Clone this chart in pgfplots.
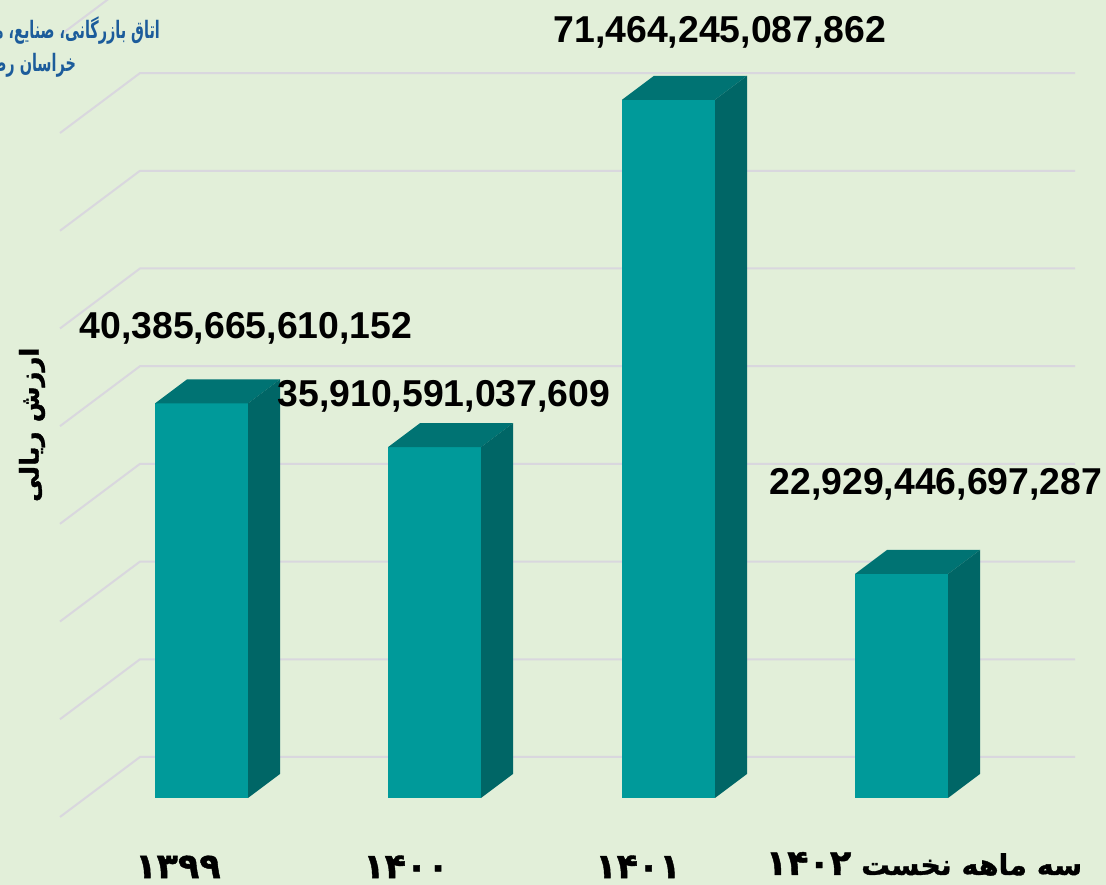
\documentclass[border=0pt]{standalone}
\usepackage{fontspec}
\usepackage{pgfplots}
\pgfplotsset{compat=1.18}
\setmainfont{Liberation Sans}
\newfontfamily\arabicfont[Script=Arabic]{DejaVu Sans}
\newfontfamily\arabicheavy[Script=Arabic,FakeBold=1.2]{DejaVu Sans Bold}
\TeXXeTstate=1
\definecolor{bg}{RGB}{226,239,217}
\definecolor{barfront}{RGB}{0,154,154}
\definecolor{bartop}{RGB}{0,115,115}
\definecolor{barside}{RGB}{0,102,102}
\definecolor{gridc}{RGB}{217,215,222}
\definecolor{logoblue}{RGB}{28,92,155}
% x in pixels of the picture, y in trillions of rials (9.77 px per unit)
\begin{document}
\begin{tikzpicture}[x=1pt,y=1pt]
\path[use as bounding box] (0,0) rectangle (1106,885);
\clip (0,0) rectangle (1106,885);
\fill[bg] (0,0) rectangle (1106,885);
\begin{axis}[
    at={(0,0)}, anchor=south west,
    scale only axis, width=1106pt, height=885pt,
    xmin=0, xmax=1106, ymin=-8.905, ymax=81.68,
    axis lines=none,
    unbounded coords=jump,
]
% grid: slanted side wall and back wall
\addplot[gridc, line width=2pt] coordinates {
    (60,-1.94) (140,4.2) (1075,4.2) (nan,nan)
    (60,8.06) (140,14.2) (1075,14.2) (nan,nan)
    (60,18.06) (140,24.2) (1075,24.2) (nan,nan)
    (60,28.06) (140,34.2) (1075,34.2) (nan,nan)
    (60,38.06) (140,44.2) (1075,44.2) (nan,nan)
    (60,48.06) (140,54.2) (1075,54.2) (nan,nan)
    (60,58.06) (140,64.2) (1075,64.2) (nan,nan)
    (60,68.06) (140,74.2) (1075,74.2) (nan,nan)
    (60,78.06) (140,84.2) (1075,84.2)
};
% 1399
\addplot[fill=barfront, draw=none] coordinates {(155,0) (248,0) (248,40.386) (155,40.386)} -- cycle;
\addplot[fill=bartop, draw=none] coordinates {(155,40.386) (248,40.386) (280,42.843) (187,42.843)} -- cycle;
\addplot[fill=barside, draw=none] coordinates {(248,0) (280,2.457) (280,42.843) (248,40.386)} -- cycle;
% 1400
\addplot[fill=barfront, draw=none] coordinates {(388,0) (481,0) (481,35.911) (388,35.911)} -- cycle;
\addplot[fill=bartop, draw=none] coordinates {(388,35.911) (481,35.911) (513,38.368) (420,38.368)} -- cycle;
\addplot[fill=barside, draw=none] coordinates {(481,0) (513,2.457) (513,38.368) (481,35.911)} -- cycle;
% 1401
\addplot[fill=barfront, draw=none] coordinates {(622,0) (715,0) (715,71.464) (622,71.464)} -- cycle;
\addplot[fill=bartop, draw=none] coordinates {(622,71.464) (715,71.464) (747,73.921) (654,73.921)} -- cycle;
\addplot[fill=barside, draw=none] coordinates {(715,0) (747,2.457) (747,73.921) (715,71.464)} -- cycle;
% 1402
\addplot[fill=barfront, draw=none] coordinates {(855,0) (948,0) (948,22.929) (855,22.929)} -- cycle;
\addplot[fill=bartop, draw=none] coordinates {(855,22.929) (948,22.929) (980,25.386) (887,25.386)} -- cycle;
\addplot[fill=barside, draw=none] coordinates {(948,0) (980,2.457) (980,25.386) (948,22.929)} -- cycle;
% value labels
\node[font=\fontsize{37.4}{37.4}\selectfont\bfseries] at (axis cs:246,48.1) {40,385,665,610,152};
\node[font=\fontsize{37.4}{37.4}\selectfont\bfseries] at (axis cs:444,41.15) {35,910,591,037,609};
\node[font=\fontsize{37.4}{37.4}\selectfont\bfseries] at (axis cs:720,78.4) {71,464,245,087,862};
\node[font=\fontsize{37.4}{37.4}\selectfont\bfseries] at (axis cs:936,32.15) {22,929,446,697,287};
% category labels
\node[font=\fontsize{35}{35}\selectfont\arabicheavy] at (axis cs:178,-7.05) {۱۳۹۹};
\node[font=\fontsize{35}{35}\selectfont\arabicheavy] at (axis cs:406,-7.05) {۱۴۰۰};
\node[font=\fontsize{35}{35}\selectfont\arabicheavy] at (axis cs:638,-7.05) {۱۴۰۱};
\node[font=\fontsize{28.5}{28.5}\selectfont\arabicheavy] at (axis cs:924,-6.75) {\beginR سه ماهه نخست {\fontsize{35}{35}\selectfont\beginL۱۴۰۲\endL}\endR};
% axis title
\node[rotate=90, font=\fontsize{26}{26}\selectfont\arabicheavy] at (axis cs:32,38.2) {\beginR ارزش ریالی\endR};
% logo text, cut by the picture's left edge
\node[anchor=east, xscale=0.6, text=logoblue, font=\fontsize{24}{24}\selectfont\arabicfont\bfseries] at (axis cs:162,78.6) {\beginR اتاق بازرگانی، صنایع، معادن و کشاورزی\endR};
\node[anchor=east, xscale=0.6, text=logoblue, font=\fontsize{24}{24}\selectfont\arabicfont\bfseries] at (axis cs:78,75) {\beginR خراسان رضوی\endR};
\end{axis}
\end{tikzpicture}
\end{document}
